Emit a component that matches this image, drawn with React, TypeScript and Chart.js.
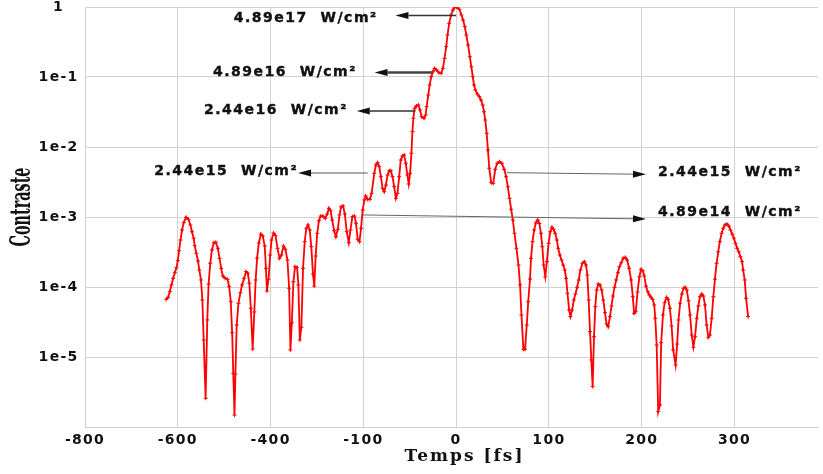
import React, { useEffect, useRef } from "react";
import { Chart, registerables } from "chart.js";

Chart.register(...registerables);

// ---- data ----
const times: number[] = [
  -312.5, -310.4, -308.6, -306.8, -305.0, -303.2, -301.4, -300.0, -298.6, -297.1,
  -295.4, -293.6, -291.1, -288.5, -286.4, -284.7, -282.9, -281.8, -280.0, -278.2,
  -276.8, -275.0, -273.5, -272.1, -270.0, -268.2, -266.8, -265.0, -263.2, -261.1,
  -259.0, -256.8, -255.0, -253.2, -251.5, -248.9, -246.4, -244.6, -242.9, -241.4,
  -240.2, -238.9, -237.9, -236.5, -234.6, -232.5, -230.7, -228.5, -226.4, -224.5,
  -222.9, -221.3, -219.3, -217.5, -216.1, -214.5, -212.7, -210.5, -208.4, -206.3,
  -205.0, -203.9, -202.2, -200.4, -199.0, -196.8, -194.7, -192.5, -190.4, -188.3,
  -186.1, -184.0, -181.8, -180.0, -178.6, -177.1, -175.4, -173.6, -171.4, -170.0,
  -168.5, -166.8, -165.0, -163.2, -161.5, -159.6, -157.8, -156.1, -154.3, -152.9,
  -151.4, -149.7, -147.9, -146.0, -143.6, -141.1, -139.0, -137.1, -135.3, -133.6,
  -131.5, -129.6, -127.5, -125.7, -124.0, -121.8, -120.0, -117.9, -115.7, -113.9,
  -111.8, -109.6, -107.9, -106.1, -104.2, -102.5, -100.7, -98.9, -97.5, -95.4,
  -92.9, -91.1, -88.2, -86.5, -84.6, -82.8, -81.1, -79.3, -77.5, -75.7,
  -73.9, -72.1, -70.4, -68.6, -66.8, -65.0, -63.2, -61.4, -59.7, -57.9,
  -56.0, -54.3, -52.5, -51.1, -49.6, -48.2, -47.1, -46.1, -44.7, -42.9,
  -40.7, -38.9, -37.2, -34.6, -32.9, -31.8, -30.0, -28.6, -26.8, -25.0,
  -23.2, -21.1, -18.5, -16.1, -14.3, -12.5, -10.7, -9.3, -7.5, -5.4,
  -3.5, -1.4, 0.5, 3.5, 5.7, 7.5, 9.3, 11.0, 12.9, 14.7,
  16.4, 17.9, 19.3, 20.7, 22.8, 25.0, 26.8, 28.6, 30.0, 31.4,
  32.9, 34.3, 35.7, 37.8, 40.0, 42.1, 44.3, 46.8, 49.3, 51.8,
  53.9, 55.7, 57.5, 59.3, 61.1, 62.9, 65.0, 67.2, 68.9, 70.4,
  72.5, 74.3, 76.1, 77.7, 79.6, 80.7, 82.3, 84.1, 85.9, 87.9,
  89.7, 91.4, 92.9, 94.3, 96.1, 97.8, 99.6, 101.5, 103.2, 105.0,
  106.8, 108.5, 110.0, 111.8, 113.6, 115.4, 117.1, 118.6, 120.0, 121.8,
  123.2, 125.0, 126.8, 128.6, 130.4, 132.1, 133.9, 136.1, 138.2, 140.0,
  141.4, 142.8, 144.3, 145.7, 147.1, 148.6, 150.0, 151.4, 153.2, 155.0,
  156.8, 158.6, 160.4, 162.1, 163.9, 165.8, 167.5, 169.0, 170.7, 172.5,
  174.3, 176.0, 177.9, 180.0, 182.1, 184.3, 186.4, 188.6, 190.4, 191.8,
  193.6, 195.5, 197.5, 199.3, 201.1, 202.8, 204.6, 206.5, 208.2, 210.0,
  211.8, 213.5, 214.6, 216.1, 217.8, 219.6, 221.0, 222.9, 224.7, 226.8,
  228.5, 230.4, 232.2, 233.9, 236.5, 238.2, 239.7, 241.4, 243.2, 245.0,
  246.8, 248.6, 250.4, 252.1, 253.9, 255.7, 257.5, 259.3, 261.1, 262.8,
  264.6, 266.5, 268.2, 270.0, 271.8, 273.5, 275.4, 277.2, 278.9, 280.7,
  282.5, 284.2, 286.1, 287.9, 289.6, 291.8, 293.9, 295.7, 297.5, 299.3,
  301.1, 302.9, 304.6, 306.4, 308.2, 309.3, 311.0, 312.5, 314.7,
];

const contrast: number[] = [
  6.67e-5, 7.13e-5, 8.57e-5, 1.07e-4, 1.33e-4, 1.6e-4, 1.89e-4, 2.38e-4, 3.3e-4, 4.69e-4,
  6.52e-4, 8.3e-4, 9.9e-4, 9.27e-4, 7.69e-4, 6.17e-4, 4.97e-4, 3.89e-4, 3.03e-4, 2.35e-4,
  1.75e-4, 1.26e-4, 6.52e-5, 1.75e-5, 2.57e-6, 3.38e-5, 1.1e-4, 2.18e-4, 3.38e-4, 4.3e-4,
  4.35e-4, 3.57e-4, 2.57e-4, 1.85e-4, 1.44e-4, 1.33e-4, 1.29e-4, 1.01e-4, 6.17e-5, 2.22e-5,
  5.85e-6, 1.48e-6, 5.71e-6, 2.86e-5, 5.85e-5, 8.3e-5, 1.07e-4, 1.33e-4, 1.66e-4, 1.57e-4,
  1.13e-4, 4.97e-5, 1.3e-5, 4.4e-5, 1.26e-4, 2.59e-4, 4.26e-4, 5.71e-4, 5.36e-4, 3.85e-4,
  1.85e-4, 8.77e-5, 1.29e-4, 2.86e-4, 4.69e-4, 5.9e-4, 5.45e-4, 3.57e-4, 2.57e-4, 2.86e-4,
  3.85e-4, 3.46e-4, 2.43e-4, 9.57e-5, 1.26e-5, 3.09e-5, 1.19e-4, 1.95e-4, 1.91e-4, 1.07e-4,
  1.75e-5, 2.65e-5, 1.85e-4, 4.44e-4, 6.9e-4, 7.69e-4, 6.52e-4, 3.77e-4, 1.53e-4, 1.03e-4,
  2.77e-4, 5.85e-4, 8.85e-4, 1.03e-3, 1.03e-3, 9.57e-4, 1.1e-3, 1.33e-3, 1.23e-3, 9.06e-4,
  6.37e-4, 5.24e-4, 6.67e-4, 1.07e-3, 1.4e-3, 1.44e-3, 1.1e-3, 6.17e-4, 4.3e-4, 6.52e-4,
  1.01e-3, 1.03e-3, 8.13e-4, 4.8e-4, 4.44e-4, 6.9e-4, 1.26e-3, 1.75e-3, 2.0e-3, 1.79e-3,
  1.79e-3, 2.18e-3, 4.21e-3, 5.53e-3, 5.97e-3, 5.23e-3, 3.77e-3, 2.57e-3, 2.3e-3, 2.86e-3,
  3.98e-3, 4.59e-3, 4.59e-3, 3.77e-3, 2.71e-3, 1.85e-3, 2.18e-3, 3.77e-3, 6.52e-3, 7.43e-3,
  7.69e-3, 5.85e-3, 3.98e-3, 2.96e-3, 4.21e-3, 8.13e-3, 1.66e-2, 2.57e-2, 3.57e-2, 3.85e-2,
  3.98e-2, 3.38e-2, 2.71e-2, 2.57e-2, 2.86e-2, 3.77e-2, 5.53e-2, 7.69e-2, 0.101, 0.119,
  0.133, 0.126, 0.115, 0.113, 0.133, 0.185, 0.271, 0.398, 0.585, 0.769,
  0.906, 0.99, 1.0, 0.927, 0.769, 0.652, 0.524, 0.398, 0.286, 0.195,
  0.14, 0.101, 7.69e-2, 6.52e-2, 5.71e-2, 5.24e-2, 4.69e-2, 3.98e-2, 3.19e-2, 2.43e-2,
  1.57e-2, 9.06e-3, 4.97e-3, 3.09e-3, 3.03e-3, 4.8e-3, 5.85e-3, 6.17e-3, 5.85e-3, 4.8e-3,
  3.77e-3, 2.71e-3, 1.85e-3, 1.29e-3, 9.06e-4, 5.85e-4, 3.57e-4, 2.06e-4, 1.07e-4, 3.98e-5,
  1.29e-5, 1.29e-5, 2.86e-5, 6.17e-5, 1.3e-4, 2.57e-4, 4.44e-4, 6.52e-4, 8.2e-4, 9.06e-4,
  8.07e-4, 5.85e-4, 3.77e-4, 2.06e-4, 1.4e-4, 2.3e-4, 4.21e-4, 6.17e-4, 7.13e-4, 6.67e-4,
  5.85e-4, 4.69e-4, 3.57e-4, 2.86e-4, 2.43e-4, 2.06e-4, 1.75e-4, 1.33e-4, 8.13e-5, 4.69e-5,
  3.77e-5, 4.69e-5, 6.52e-5, 7.94e-5, 9.9e-5, 1.26e-4, 1.75e-4, 2.18e-4, 2.3e-4, 2.06e-4,
  1.48e-4, 6.52e-5, 2.3e-5, 9.06e-6, 3.77e-6, 1.95e-5, 5.24e-5, 9.06e-5, 1.1e-4, 1.07e-4,
  9.06e-5, 6.52e-5, 4.3e-5, 2.96e-5, 2.71e-5, 3.77e-5, 5.36e-5, 7.43e-5, 9.9e-5, 1.26e-4,
  1.6e-4, 1.95e-4, 2.22e-4, 2.57e-4, 2.65e-4, 2.43e-4, 1.85e-4, 1.26e-4, 7.27e-5, 4.21e-5,
  4.44e-5, 8.49e-5, 1.4e-4, 1.79e-4, 1.71e-4, 1.44e-4, 1.03e-4, 8.57e-5, 7.69e-5, 7.13e-5,
  6.67e-5, 5.53e-5, 3.57e-5, 1.48e-5, 1.66e-6, 2.06e-6, 1.6e-5, 3.98e-5, 5.97e-5, 7.13e-5,
  6.67e-5, 4.97e-5, 2.77e-5, 1.26e-5, 7.69e-6, 1.53e-5, 3.38e-5, 5.85e-5, 7.94e-5, 9.57e-5,
  9.9e-5, 9.06e-5, 6.37e-5, 3.98e-5, 2.06e-5, 1.38e-5, 1.95e-5, 3.57e-5, 5.36e-5, 7.27e-5,
  7.94e-5, 7.43e-5, 5.53e-5, 2.86e-5, 1.91e-5, 2.06e-5, 3.57e-5, 7.27e-5, 1.29e-4, 2.18e-4,
  3.19e-4, 4.44e-4, 5.85e-4, 6.9e-4, 7.69e-4, 7.94e-4, 7.43e-4, 6.52e-4, 5.71e-4, 4.97e-4,
  4.21e-4, 3.57e-4, 3.19e-4, 2.71e-4, 2.3e-4, 1.75e-4, 1.26e-4, 6.9e-5, 3.77e-5,
];

const xTickValues = [-400, -300, -200, -100, 0, 100, 200, 300];
const xTickLabels = ["-800", "-600", "-400", "-100", "0", "100", "200", "300"];
const yTickValues = [1e-6, 1e-5, 1e-4, 1e-3, 1e-2, 1e-1, 1];
const yTickLabels = ["", "1e-5", "1e-4", "1e-3", "1e-2", "1e-1", "1"];
const xTitle = "Temps [fs]";
const yTitle = "Contraste";

// annotation texts and their anchors (in data units: fs, contrast)
const annotationTexts = [
  "4.89e17  W/cm²",
  "4.89e16  W/cm²",
  "2.44e16  W/cm²",
  "2.44e15  W/cm²",
  "2.44e15  W/cm²",
  "4.89e14  W/cm²",
];
const annotationAnchors = [
  { align: "right", tx: -84.6, ty: 0.68, from: [0, 0.756], to: [-65.4, 0.756], lw: 1.5, color: "#333" },
  { align: "right", tx: -107.1, ty: 0.118, from: [-25.7, 0.116], to: [-87.9, 0.116], lw: 2.5, color: "#444" },
  { align: "right", tx: -116.8, ty: 0.0334, from: [-43.9, 0.0327], to: [-107.1, 0.0327], lw: 1.5, color: "#333" },
  { align: "right", tx: -170.4, ty: 4.43e-3, from: [-95.4, 4.25e-3], to: [-170.4, 4.25e-3], lw: 1, color: "#555" },
  { align: "left", tx: 217.5, ty: 4.39e-3, from: [54.6, 4.3e-3], to: [204.6, 4.07e-3], lw: 1, color: "#666" },
  { align: "left", tx: 217.5, ty: 1.18e-3, from: [-100.7, 1.07e-3], to: [204.6, 9.36e-4], lw: 1, color: "#666" },
];

const SANS = '"DejaVu Sans", sans-serif';
const SERIF = '"DejaVu Serif", serif';

function drawArrow(ctx: CanvasRenderingContext2D, x1: number, y1: number, x2: number, y2: number, lw: number, color: string) {
  const ang = Math.atan2(y2 - y1, x2 - x1);
  const len = 13;
  const hw = 3.5;
  const bx = x2 - len * Math.cos(ang);
  const by = y2 - len * Math.sin(ang);
  ctx.save();
  ctx.strokeStyle = color;
  ctx.lineWidth = lw;
  ctx.beginPath();
  ctx.moveTo(x1, y1);
  ctx.lineTo(bx, by);
  ctx.stroke();
  ctx.fillStyle = "#111";
  ctx.beginPath();
  ctx.moveTo(x2, y2);
  ctx.lineTo(bx + hw * Math.sin(ang), by - hw * Math.cos(ang));
  ctx.lineTo(bx - hw * Math.sin(ang), by + hw * Math.cos(ang));
  ctx.closePath();
  ctx.fill();
  ctx.restore();
}

const textPlugin = {
  id: "annotTexts",
  beforeDraw(chart: any) {
    (chart.ctx as any).letterSpacing = "1.3px";
  },
  afterDraw(chart: any) {
    const ctx: CanvasRenderingContext2D = chart.ctx;
    const { chartArea } = chart;
    const xs = chart.scales.x;
    const ys = chart.scales.y;
    ctx.save();
    annotationAnchors.forEach((a, i) => {
      drawArrow(
        ctx,
        xs.getPixelForValue(a.from[0]),
        ys.getPixelForValue(a.from[1]),
        xs.getPixelForValue(a.to[0]),
        ys.getPixelForValue(a.to[1]),
        a.lw,
        a.color
      );
      (ctx as any).letterSpacing = "1.5px";
      ctx.font = `bold 14px ${SANS}`;
      ctx.fillStyle = "#111";
      ctx.strokeStyle = "#111";
      ctx.lineWidth = 0.4;
      ctx.textAlign = a.align as CanvasTextAlign;
      ctx.textBaseline = "middle";
      const px = xs.getPixelForValue(a.tx);
      const py = ys.getPixelForValue(a.ty);
      ctx.fillText(annotationTexts[i], px, py);
      ctx.strokeText(annotationTexts[i], px, py);
    });
    // x title
    (ctx as any).letterSpacing = "2px";
    ctx.font = `bold 17px ${SERIF}`;
    ctx.fillStyle = "#111";
    ctx.textAlign = "center";
    ctx.textBaseline = "middle";
    ctx.fillText(xTitle, (chartArea.left + chartArea.right) / 2 + 13, chartArea.bottom + 30);
    // y title
    (ctx as any).letterSpacing = "0px";
    ctx.translate(22.5, (chartArea.top + chartArea.bottom) / 2 - 10);
    ctx.rotate(-Math.PI / 2);
    ctx.scale(0.9, 1.7);
    ctx.font = `bold 16px ${SERIF}`;
    ctx.fillText(yTitle, 0, 0);
    ctx.restore();
  },
};

export default function App() {
  const ref = useRef<HTMLCanvasElement>(null);
  useEffect(() => {
    const points = times.map((t, i) => ({ x: t, y: contrast[i] }));
    const tickFont = { family: SANS, weight: "bold" as const, size: 14 };
    const chart = new Chart(ref.current as HTMLCanvasElement, {
      type: "scatter",
      data: {
        datasets: [
          {
            data: points,
            showLine: true,
            borderColor: "#ff0000",
            backgroundColor: "#ff0000",
            borderWidth: 1.8,
            pointStyle: "cross",
            pointRadius: 2,
            pointBorderWidth: 1,
            pointBorderColor: "#ff0000",
            tension: 0,
          },
        ],
      },
      options: {
        responsive: false,
        animation: false,
        layout: { padding: { top: 7, left: 0, right: 0, bottom: 0 } },
        plugins: { legend: { display: false }, tooltip: { enabled: false } },
        scales: {
          x: {
            type: "linear",
            min: -400,
            max: 390,
            afterBuildTicks: (s: any) => {
              s.ticks = xTickValues.map((v) => ({ value: v }));
            },
            afterFit: (s: any) => {
              s.height = 47;
              s.paddingLeft = 0;
              s.paddingRight = 0;
            },
            ticks: {
              callback: (_v: any, i: number) => xTickLabels[i],
              font: tickFont,
              color: "#111",
              padding: 5,
              maxRotation: 0,
              autoSkip: false,
            },
            grid: { color: "#d2d2d2", drawTicks: false, lineWidth: 1 },
            border: { color: "#cfcfcf" },
          },
          y: {
            type: "logarithmic",
            min: 1e-6,
            max: 1,
            afterBuildTicks: (s: any) => {
              s.ticks = yTickValues.map((v) => ({ value: v }));
            },
            afterFit: (s: any) => {
              s.width = 85;
              s.paddingTop = 0;
              s.paddingBottom = 0;
            },
            ticks: {
              callback: (_v: any, i: number) => yTickLabels[i],
              font: tickFont,
              color: "#111",
              padding: 9,
              crossAlign: "center",
              autoSkip: false,
            },
            grid: { color: "#d2d2d2", drawTicks: false, lineWidth: 1 },
            border: { color: "#cfcfcf" },
          },
        },
      },
      plugins: [textPlugin],
    } as any);
    return () => chart.destroy();
  }, []);
  return (
    <div style={{ position: "absolute", left: 0, top: 0, width: 823, height: 474, background: "#fff" }}>
      <canvas ref={ref} width={823} height={474} style={{ display: "block" }} />
    </div>
  );
}
